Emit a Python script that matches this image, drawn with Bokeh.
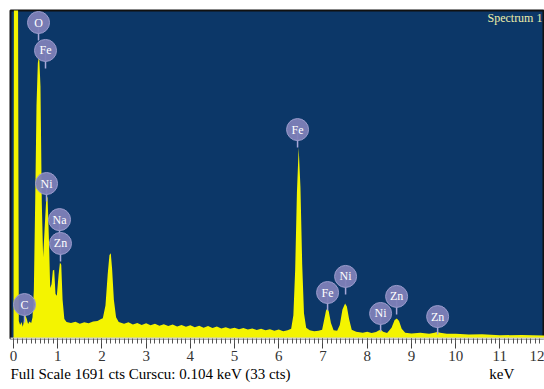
from bokeh.plotting import figure
from bokeh.models import Range1d, FixedTicker, Label, Title
from bokeh.core.properties import value
from bokeh.embed import file_html
from bokeh.resources import INLINE

# Spectrum: energy (keV) and counts
energy_kev = [0.00, 0.01, 0.10, 0.12, 0.15, 0.18, 0.21, 0.24, 0.27, 0.30, 0.33, 0.36, 0.40, 0.43,
              0.46, 0.49, 0.52, 0.55, 0.58, 0.61, 0.64, 0.67, 0.70, 0.74, 0.77, 0.80, 0.83, 0.86,
              0.89, 0.92, 0.95, 0.98, 1.02, 1.05, 1.08, 1.11, 1.15, 1.20, 1.30, 1.40, 1.50, 1.60,
              1.70, 1.80, 1.90, 1.98, 2.02, 2.08, 2.13, 2.17, 2.20, 2.23, 2.27, 2.32, 2.38, 2.50,
              2.60, 2.70, 2.80, 2.90, 3.00, 3.10, 3.20, 3.30, 3.40, 3.50, 3.60, 3.70, 3.80, 3.90,
              4.00, 4.10, 4.20, 4.30, 4.40, 4.50, 4.60, 4.70, 4.80, 4.90, 5.00, 5.10, 5.20, 5.30,
              5.40, 5.50, 5.60, 5.70, 5.80, 5.90, 6.00, 6.10, 6.20, 6.28, 6.33, 6.37, 6.41, 6.45,
              6.49, 6.53, 6.57, 6.62, 6.70, 6.80, 6.90, 6.98, 7.03, 7.07, 7.10, 7.13, 7.18, 7.24,
              7.32, 7.38, 7.44, 7.50, 7.54, 7.59, 7.65, 7.75, 7.90, 8.00, 8.10, 8.20, 8.27, 8.31,
              8.36, 8.45, 8.55, 8.62, 8.67, 8.72, 8.78, 8.86, 9.00, 9.20, 9.40, 9.52, 9.58, 9.65,
              9.80, 10.00, 10.30, 10.60, 11.00, 11.50, 12.10]
counts = [0, 2000, 2000, 90, 70, 85, 60, 95, 120, 100, 75, 88, 80, 110,
          250, 700, 1200, 1420, 1460, 1300, 700, 420, 550, 720, 730, 520, 260, 280,
          350, 355, 230, 220, 330, 392, 380, 200, 100, 85, 80, 86, 76, 84,
          78, 88, 90, 100, 105, 170, 330, 430, 440, 360, 200, 110, 85, 76,
          84, 72, 80, 70, 78, 68, 76, 66, 74, 64, 72, 62, 70, 60,
          68, 58, 66, 56, 64, 54, 62, 52, 58, 50, 56, 48, 54, 46,
          52, 44, 50, 42, 48, 40, 46, 38, 43, 50, 120, 350, 750, 985,
          780, 380, 130, 55, 42, 38, 40, 45, 100, 145, 155, 140, 80, 42,
          40, 70, 150, 180, 165, 100, 45, 35, 30, 35, 28, 33, 42, 45,
          35, 28, 55, 95, 103, 90, 50, 30, 26, 30, 24, 30, 34, 30,
          24, 25, 21, 22, 17, 18, 15]

# Peak labels: element, energy (keV) and label height (counts)
label_text = ["O", "Fe", "Ni", "Na", "Zn", "C", "Fe", "Fe", "Ni", "Ni", "Zn", "Zn"]
label_kev = [0.566, 0.724, 0.747, 1.041, 1.063, 0.249, 6.425, 7.104, 7.511, 8.303, 8.665, 9.593]
label_cts = [1629, 1485, 799, 613, 490, 175, 1077, 237, 320, 129, 217, 113]

tick_values = list(range(0, 13))
minor_values = [i / 10 for i in range(0, 121)]

footer_text = "Full Scale 1691 cts Curscu: 0.104 keV (33 cts)"
footer_unit = "keV"

CPP = 1691 / 328.0  # counts per pixel

p = figure(width=544, height=389, output_backend="svg", toolbar_location=None,
           x_range=Range1d(-0.068, 12.01), y_range=Range1d(0, 1691),
           y_axis_location=None, min_border_left=10, min_border_right=0,
           min_border_top=10, min_border_bottom=51)
p.background_fill_color = "#0c3768"
p.border_fill_color = "white"
p.outline_line_color = "#111111"
p.outline_line_width = 2
p.grid.visible = False

p.varea(x=energy_kev, y1=[0] * len(counts), y2=counts, fill_color="#f4f400")

stem_top = [c for c in label_cts]
stem_bot = [c - 18 * CPP for c in label_cts]
p.segment(x0=label_kev, y0=stem_top, x1=label_kev, y1=stem_bot,
          line_color="#a8a8d8", line_width=1.5)
p.scatter(x=label_kev, y=label_cts, size=22, fill_color="#7e80b8",
          fill_alpha=0.95, line_color="#9a9ccc", line_width=1)
p.text(x=label_kev, y=label_cts, text=label_text, text_align="center",
       text_baseline="middle", text_color="white",
       text_font=value("Liberation Serif"), text_font_size="12px")

ax = p.xaxis[0]
ax.ticker = FixedTicker(ticks=tick_values, minor_ticks=minor_values)
ax.axis_line_color = "#cfcfcf"
ax.axis_line_width = 2
ax.major_tick_line_color = "#444444"
ax.minor_tick_line_color = "#555555"
ax.major_tick_in = 0
ax.major_tick_out = 10
ax.minor_tick_in = 0
ax.minor_tick_out = 5
ax.major_label_standoff = 2
ax.major_label_text_font = "Liberation Sans Narrow"
ax.major_label_text_font_size = "15px"
ax.major_label_text_color = "#333333"

p.add_layout(Label(x=10.72, y=(338 - 17) * CPP, text="Spectrum 1", text_baseline="middle",
                   text_color="#eeeeaa", text_font="Liberation Serif", text_font_size="12px"))

nbsp = "\u00a0"
footer = Title(text=footer_text + nbsp * 53 + footer_unit, align="left", offset=0,
               standoff=0, text_font="Liberation Serif", text_font_size="15px",
               text_font_style="normal", text_color="black")
p.add_layout(footer, "below")

open("out.html", "w").write(file_html(p, INLINE))
